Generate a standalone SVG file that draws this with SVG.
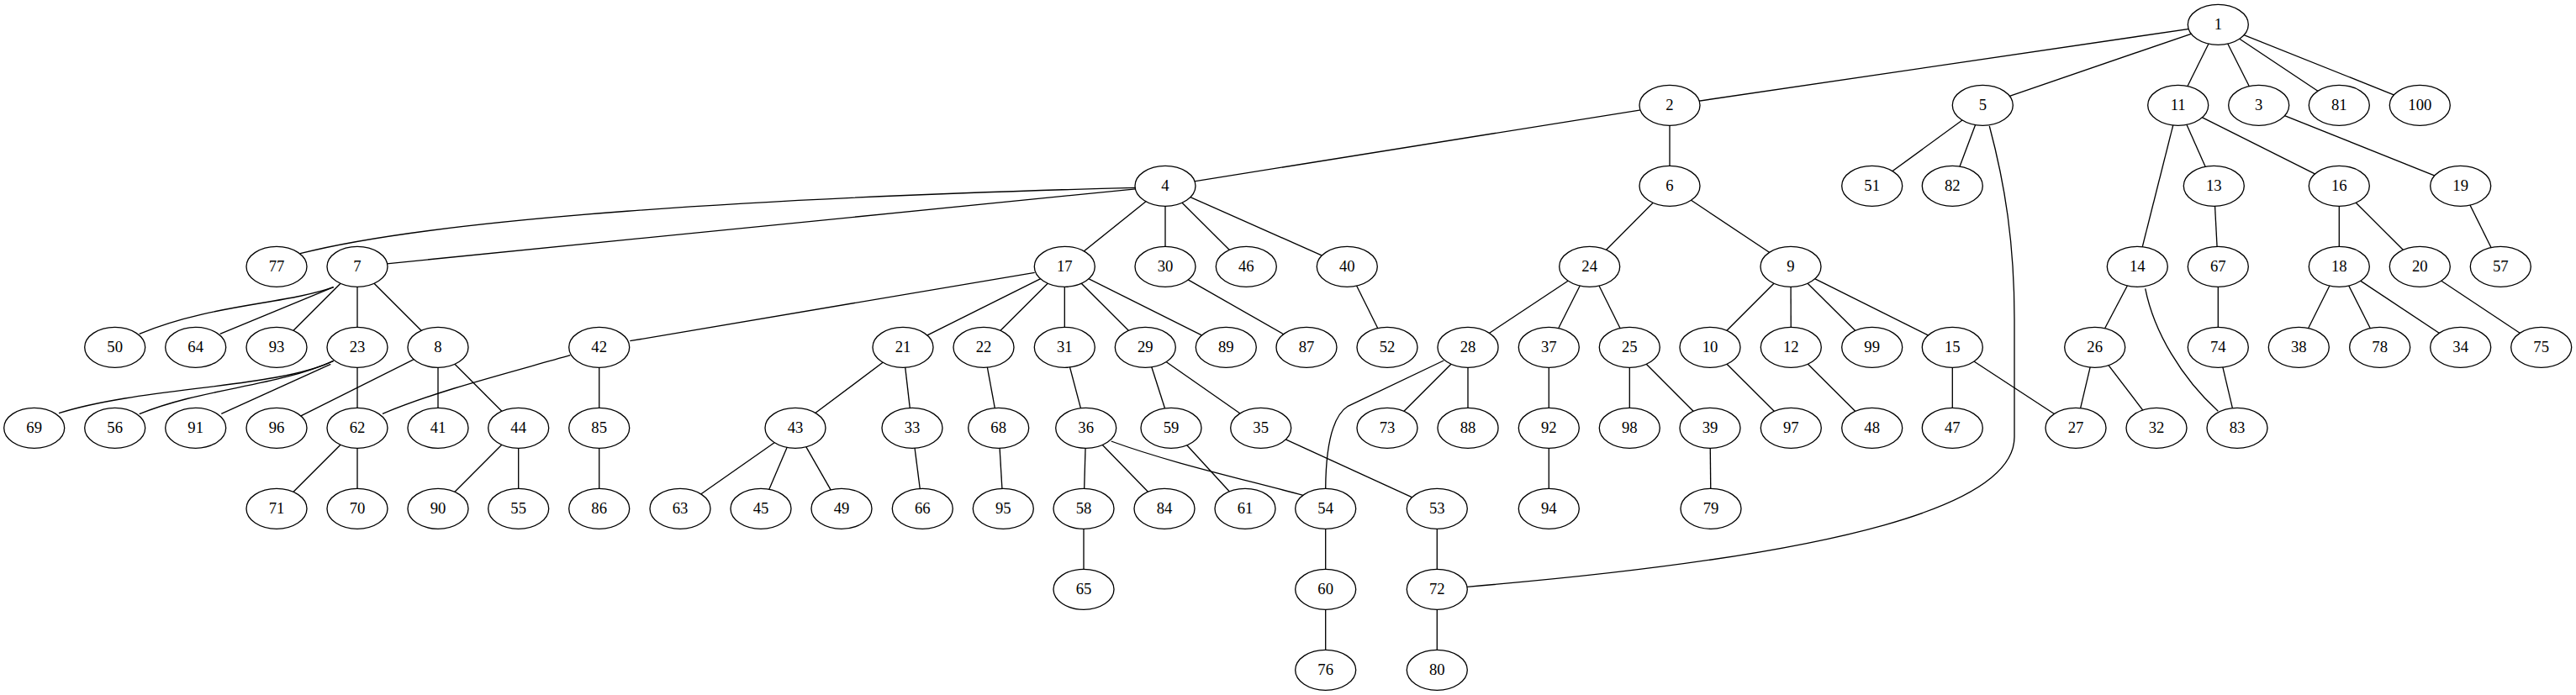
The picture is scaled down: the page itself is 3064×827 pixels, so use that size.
<svg xmlns="http://www.w3.org/2000/svg" width="3064" height="827" viewBox="0 0 3064 827">
<style>
#edges line, #edges path { stroke:#000; stroke-width:1.33; fill:none; }
.n ellipse { fill:#fff; stroke:#000; stroke-width:1.33; }
.n text { font-family:"Liberation Serif","Times New Roman",serif; font-size:18.67px; text-anchor:middle; fill:#000; }
</style>
<rect x="0" y="0" width="3064" height="827" fill="#fff"/>
<g id="edges">
<line x1="2638.3" y1="29.3" x2="1986" y2="125.3"/>
<line x1="2638.3" y1="29.3" x2="2358.3" y2="125.3"/>
<line x1="2638.3" y1="29.3" x2="2590.7" y2="125.3"/>
<line x1="2638.3" y1="29.3" x2="2686.7" y2="125.3"/>
<line x1="2638.3" y1="29.3" x2="2782.3" y2="125.3"/>
<line x1="2638.3" y1="29.3" x2="2878.3" y2="125.3"/>
<line x1="1986" y1="125.3" x2="1386" y2="221.3"/>
<line x1="1986" y1="125.3" x2="1986" y2="221.3"/>
<line x1="2358.3" y1="125.3" x2="2226.7" y2="221.3"/>
<line x1="2358.3" y1="125.3" x2="2322.3" y2="221.3"/>
<path d="M2366.3,150 C2385,220 2396,290 2396,380 L2396,520 C2396,600 2200,660 1745,698.3"/>
<line x1="2590.7" y1="125.3" x2="2542.3" y2="317.3"/>
<line x1="2590.7" y1="125.3" x2="2633.3" y2="221.3"/>
<line x1="2590.7" y1="125.3" x2="2782.3" y2="221.3"/>
<line x1="2686.7" y1="125.3" x2="2926.7" y2="221.3"/>
<path d="M1351,223.3 C900,235 520,260 357,301.7"/>
<line x1="1386" y1="221.3" x2="425" y2="317.3"/>
<line x1="1386" y1="221.3" x2="1266.3" y2="317.3"/>
<line x1="1386" y1="221.3" x2="1386" y2="317.3"/>
<line x1="1386" y1="221.3" x2="1482.3" y2="317.3"/>
<line x1="1386" y1="221.3" x2="1602.3" y2="317.3"/>
<line x1="1986" y1="221.3" x2="1890.7" y2="317.3"/>
<line x1="1986" y1="221.3" x2="2130" y2="317.3"/>
<line x1="2633.3" y1="221.3" x2="2638.3" y2="317.3"/>
<line x1="2782.3" y1="221.3" x2="2782.3" y2="317.3"/>
<line x1="2782.3" y1="221.3" x2="2878.3" y2="317.3"/>
<line x1="2926.7" y1="221.3" x2="2974.3" y2="317.3"/>
<path d="M396.7,341.7 C340,362 250,362 165.7,397.3"/>
<line x1="396.7" y1="341.7" x2="261.7" y2="397.3"/>
<line x1="425" y1="317.3" x2="329" y2="413.3"/>
<line x1="425" y1="317.3" x2="425" y2="413.3"/>
<line x1="425" y1="317.3" x2="521" y2="413.3"/>
<line x1="1230.7" y1="324.3" x2="749.3" y2="405.7"/>
<line x1="1266.3" y1="317.3" x2="1074" y2="413.3"/>
<line x1="1266.3" y1="317.3" x2="1170" y2="413.3"/>
<line x1="1266.3" y1="317.3" x2="1266.3" y2="413.3"/>
<line x1="1266.3" y1="317.3" x2="1362.3" y2="413.3"/>
<line x1="1266.3" y1="317.3" x2="1458.3" y2="413.3"/>
<line x1="1386" y1="317.3" x2="1554" y2="413.3"/>
<line x1="1602.3" y1="317.3" x2="1650" y2="413.3"/>
<line x1="1890.7" y1="317.3" x2="1746" y2="413.3"/>
<line x1="1890.7" y1="317.3" x2="1842.3" y2="413.3"/>
<line x1="1890.7" y1="317.3" x2="1938.3" y2="413.3"/>
<line x1="2130" y1="317.3" x2="2034" y2="413.3"/>
<line x1="2130" y1="317.3" x2="2130.3" y2="413.3"/>
<line x1="2130" y1="317.3" x2="2226.7" y2="413.3"/>
<line x1="2130" y1="317.3" x2="2322.3" y2="413.3"/>
<line x1="2542.3" y1="317.3" x2="2491.7" y2="413.3"/>
<path d="M2551.7,343.3 C2562,395 2595,450 2638.3,489.3"/>
<line x1="2638.3" y1="317.3" x2="2638.3" y2="413.3"/>
<line x1="2782.3" y1="317.3" x2="2734.3" y2="413.3"/>
<line x1="2782.3" y1="317.3" x2="2830.7" y2="413.3"/>
<line x1="2782.3" y1="317.3" x2="2926.7" y2="413.3"/>
<line x1="2878.3" y1="317.3" x2="3022.7" y2="413.3"/>
<path d="M396.7,429.3 C330,462 170,460 70,491.7"/>
<path d="M396.7,429.3 C330,460 240,462 165.7,492.7"/>
<line x1="393.3" y1="433.3" x2="263.3" y2="492.3"/>
<line x1="425" y1="413.3" x2="425" y2="509.3"/>
<line x1="521" y1="413.3" x2="329" y2="509.3"/>
<line x1="521" y1="413.3" x2="521" y2="509.3"/>
<line x1="521" y1="413.3" x2="616.7" y2="509.3"/>
<path d="M678.3,422.7 C600,445 520,465 455,492.3"/>
<line x1="712.7" y1="413.3" x2="712.7" y2="509.3"/>
<line x1="1074" y1="413.3" x2="946" y2="509.3"/>
<line x1="1074" y1="413.3" x2="1085" y2="509.3"/>
<line x1="1170" y1="413.3" x2="1187.7" y2="509.3"/>
<line x1="1266.3" y1="413.3" x2="1291.7" y2="509.3"/>
<line x1="1362.3" y1="413.3" x2="1393" y2="509.3"/>
<line x1="1362.3" y1="413.3" x2="1499.7" y2="509.3"/>
<path d="M1717.3,429 L1603.3,483.3 C1585,495 1577,530 1576.7,581.7"/>
<line x1="1746" y1="413.3" x2="1650" y2="509.3"/>
<line x1="1746" y1="413.3" x2="1746" y2="509.3"/>
<line x1="1842.3" y1="413.3" x2="1842.3" y2="509.3"/>
<line x1="1938.3" y1="413.3" x2="1938.3" y2="509.3"/>
<line x1="1938.3" y1="413.3" x2="2034" y2="509.3"/>
<line x1="2034" y1="413.3" x2="2130.3" y2="509.3"/>
<line x1="2130.3" y1="413.3" x2="2226.7" y2="509.3"/>
<line x1="2322.3" y1="413.3" x2="2322.3" y2="509.3"/>
<line x1="2322.3" y1="413.3" x2="2469" y2="509.3"/>
<line x1="2491.7" y1="413.3" x2="2469" y2="509.3"/>
<line x1="2491.7" y1="413.3" x2="2565" y2="509.3"/>
<line x1="2638.3" y1="413.3" x2="2661" y2="509.3"/>
<line x1="425" y1="509.3" x2="329" y2="605.3"/>
<line x1="425" y1="509.3" x2="425" y2="605.3"/>
<line x1="616.7" y1="509.3" x2="521" y2="605.3"/>
<line x1="616.7" y1="509.3" x2="616.7" y2="605.3"/>
<line x1="712.7" y1="509.3" x2="712.7" y2="605.3"/>
<line x1="946" y1="509.3" x2="809" y2="605.3"/>
<line x1="946" y1="509.3" x2="905" y2="605.3"/>
<line x1="946" y1="509.3" x2="1001" y2="605.3"/>
<line x1="1085" y1="509.3" x2="1097.3" y2="605.3"/>
<line x1="1187.7" y1="509.3" x2="1193.3" y2="605.3"/>
<line x1="1291.7" y1="509.3" x2="1289" y2="605.3"/>
<line x1="1291.7" y1="509.3" x2="1385" y2="605.3"/>
<path d="M1321.7,525 C1390,550 1470,568 1550,589.3"/>
<line x1="1393" y1="509.3" x2="1481" y2="605.3"/>
<line x1="1499.7" y1="509.3" x2="1709.3" y2="605.3"/>
<line x1="1842.3" y1="509.3" x2="1842.3" y2="605.3"/>
<line x1="2034" y1="509.3" x2="2035" y2="605.3"/>
<line x1="1289" y1="605.3" x2="1289" y2="701.3"/>
<line x1="1576.7" y1="605.3" x2="1576.7" y2="701.3"/>
<line x1="1709.3" y1="605.3" x2="1709.3" y2="701.3"/>
<line x1="1576.7" y1="701.3" x2="1576.7" y2="797.3"/>
<line x1="1709.3" y1="701.3" x2="1709.3" y2="797.3"/>
</g>
<g id="nodes">
<g id="node-1" class="n"><ellipse cx="2638.3" cy="29.3" rx="36" ry="24"/><text x="2638.3" y="35.3">1</text></g>
<g id="node-2" class="n"><ellipse cx="1986" cy="125.3" rx="36" ry="24"/><text x="1986" y="131.3">2</text></g>
<g id="node-5" class="n"><ellipse cx="2358.3" cy="125.3" rx="36" ry="24"/><text x="2358.3" y="131.3">5</text></g>
<g id="node-11" class="n"><ellipse cx="2590.7" cy="125.3" rx="36" ry="24"/><text x="2590.7" y="131.3">11</text></g>
<g id="node-3" class="n"><ellipse cx="2686.7" cy="125.3" rx="36" ry="24"/><text x="2686.7" y="131.3">3</text></g>
<g id="node-81" class="n"><ellipse cx="2782.3" cy="125.3" rx="36" ry="24"/><text x="2782.3" y="131.3">81</text></g>
<g id="node-100" class="n"><ellipse cx="2878.3" cy="125.3" rx="36" ry="24"/><text x="2878.3" y="131.3">100</text></g>
<g id="node-4" class="n"><ellipse cx="1386" cy="221.3" rx="36" ry="24"/><text x="1386" y="227.3">4</text></g>
<g id="node-6" class="n"><ellipse cx="1986" cy="221.3" rx="36" ry="24"/><text x="1986" y="227.3">6</text></g>
<g id="node-51" class="n"><ellipse cx="2226.7" cy="221.3" rx="36" ry="24"/><text x="2226.7" y="227.3">51</text></g>
<g id="node-82" class="n"><ellipse cx="2322.3" cy="221.3" rx="36" ry="24"/><text x="2322.3" y="227.3">82</text></g>
<g id="node-13" class="n"><ellipse cx="2633.3" cy="221.3" rx="36" ry="24"/><text x="2633.3" y="227.3">13</text></g>
<g id="node-16" class="n"><ellipse cx="2782.3" cy="221.3" rx="36" ry="24"/><text x="2782.3" y="227.3">16</text></g>
<g id="node-19" class="n"><ellipse cx="2926.7" cy="221.3" rx="36" ry="24"/><text x="2926.7" y="227.3">19</text></g>
<g id="node-77" class="n"><ellipse cx="329" cy="317.3" rx="36" ry="24"/><text x="329" y="323.3">77</text></g>
<g id="node-7" class="n"><ellipse cx="425" cy="317.3" rx="36" ry="24"/><text x="425" y="323.3">7</text></g>
<g id="node-17" class="n"><ellipse cx="1266.3" cy="317.3" rx="36" ry="24"/><text x="1266.3" y="323.3">17</text></g>
<g id="node-30" class="n"><ellipse cx="1386" cy="317.3" rx="36" ry="24"/><text x="1386" y="323.3">30</text></g>
<g id="node-46" class="n"><ellipse cx="1482.3" cy="317.3" rx="36" ry="24"/><text x="1482.3" y="323.3">46</text></g>
<g id="node-40" class="n"><ellipse cx="1602.3" cy="317.3" rx="36" ry="24"/><text x="1602.3" y="323.3">40</text></g>
<g id="node-24" class="n"><ellipse cx="1890.7" cy="317.3" rx="36" ry="24"/><text x="1890.7" y="323.3">24</text></g>
<g id="node-9" class="n"><ellipse cx="2130" cy="317.3" rx="36" ry="24"/><text x="2130" y="323.3">9</text></g>
<g id="node-14" class="n"><ellipse cx="2542.3" cy="317.3" rx="36" ry="24"/><text x="2542.3" y="323.3">14</text></g>
<g id="node-67" class="n"><ellipse cx="2638.3" cy="317.3" rx="36" ry="24"/><text x="2638.3" y="323.3">67</text></g>
<g id="node-18" class="n"><ellipse cx="2782.3" cy="317.3" rx="36" ry="24"/><text x="2782.3" y="323.3">18</text></g>
<g id="node-20" class="n"><ellipse cx="2878.3" cy="317.3" rx="36" ry="24"/><text x="2878.3" y="323.3">20</text></g>
<g id="node-57" class="n"><ellipse cx="2974.3" cy="317.3" rx="36" ry="24"/><text x="2974.3" y="323.3">57</text></g>
<g id="node-50" class="n"><ellipse cx="136.7" cy="413.3" rx="36" ry="24"/><text x="136.7" y="419.3">50</text></g>
<g id="node-64" class="n"><ellipse cx="232.7" cy="413.3" rx="36" ry="24"/><text x="232.7" y="419.3">64</text></g>
<g id="node-93" class="n"><ellipse cx="329" cy="413.3" rx="36" ry="24"/><text x="329" y="419.3">93</text></g>
<g id="node-23" class="n"><ellipse cx="425" cy="413.3" rx="36" ry="24"/><text x="425" y="419.3">23</text></g>
<g id="node-8" class="n"><ellipse cx="521" cy="413.3" rx="36" ry="24"/><text x="521" y="419.3">8</text></g>
<g id="node-42" class="n"><ellipse cx="712.7" cy="413.3" rx="36" ry="24"/><text x="712.7" y="419.3">42</text></g>
<g id="node-21" class="n"><ellipse cx="1074" cy="413.3" rx="36" ry="24"/><text x="1074" y="419.3">21</text></g>
<g id="node-22" class="n"><ellipse cx="1170" cy="413.3" rx="36" ry="24"/><text x="1170" y="419.3">22</text></g>
<g id="node-31" class="n"><ellipse cx="1266.3" cy="413.3" rx="36" ry="24"/><text x="1266.3" y="419.3">31</text></g>
<g id="node-29" class="n"><ellipse cx="1362.3" cy="413.3" rx="36" ry="24"/><text x="1362.3" y="419.3">29</text></g>
<g id="node-89" class="n"><ellipse cx="1458.3" cy="413.3" rx="36" ry="24"/><text x="1458.3" y="419.3">89</text></g>
<g id="node-87" class="n"><ellipse cx="1554" cy="413.3" rx="36" ry="24"/><text x="1554" y="419.3">87</text></g>
<g id="node-52" class="n"><ellipse cx="1650" cy="413.3" rx="36" ry="24"/><text x="1650" y="419.3">52</text></g>
<g id="node-28" class="n"><ellipse cx="1746" cy="413.3" rx="36" ry="24"/><text x="1746" y="419.3">28</text></g>
<g id="node-37" class="n"><ellipse cx="1842.3" cy="413.3" rx="36" ry="24"/><text x="1842.3" y="419.3">37</text></g>
<g id="node-25" class="n"><ellipse cx="1938.3" cy="413.3" rx="36" ry="24"/><text x="1938.3" y="419.3">25</text></g>
<g id="node-10" class="n"><ellipse cx="2034" cy="413.3" rx="36" ry="24"/><text x="2034" y="419.3">10</text></g>
<g id="node-12" class="n"><ellipse cx="2130.3" cy="413.3" rx="36" ry="24"/><text x="2130.3" y="419.3">12</text></g>
<g id="node-99" class="n"><ellipse cx="2226.7" cy="413.3" rx="36" ry="24"/><text x="2226.7" y="419.3">99</text></g>
<g id="node-15" class="n"><ellipse cx="2322.3" cy="413.3" rx="36" ry="24"/><text x="2322.3" y="419.3">15</text></g>
<g id="node-26" class="n"><ellipse cx="2491.7" cy="413.3" rx="36" ry="24"/><text x="2491.7" y="419.3">26</text></g>
<g id="node-74" class="n"><ellipse cx="2638.3" cy="413.3" rx="36" ry="24"/><text x="2638.3" y="419.3">74</text></g>
<g id="node-38" class="n"><ellipse cx="2734.3" cy="413.3" rx="36" ry="24"/><text x="2734.3" y="419.3">38</text></g>
<g id="node-78" class="n"><ellipse cx="2830.7" cy="413.3" rx="36" ry="24"/><text x="2830.7" y="419.3">78</text></g>
<g id="node-34" class="n"><ellipse cx="2926.7" cy="413.3" rx="36" ry="24"/><text x="2926.7" y="419.3">34</text></g>
<g id="node-75" class="n"><ellipse cx="3022.7" cy="413.3" rx="36" ry="24"/><text x="3022.7" y="419.3">75</text></g>
<g id="node-69" class="n"><ellipse cx="40.7" cy="509.3" rx="36" ry="24"/><text x="40.7" y="515.3">69</text></g>
<g id="node-56" class="n"><ellipse cx="136.7" cy="509.3" rx="36" ry="24"/><text x="136.7" y="515.3">56</text></g>
<g id="node-91" class="n"><ellipse cx="232.7" cy="509.3" rx="36" ry="24"/><text x="232.7" y="515.3">91</text></g>
<g id="node-96" class="n"><ellipse cx="329" cy="509.3" rx="36" ry="24"/><text x="329" y="515.3">96</text></g>
<g id="node-62" class="n"><ellipse cx="425" cy="509.3" rx="36" ry="24"/><text x="425" y="515.3">62</text></g>
<g id="node-41" class="n"><ellipse cx="521" cy="509.3" rx="36" ry="24"/><text x="521" y="515.3">41</text></g>
<g id="node-44" class="n"><ellipse cx="616.7" cy="509.3" rx="36" ry="24"/><text x="616.7" y="515.3">44</text></g>
<g id="node-85" class="n"><ellipse cx="712.7" cy="509.3" rx="36" ry="24"/><text x="712.7" y="515.3">85</text></g>
<g id="node-43" class="n"><ellipse cx="946" cy="509.3" rx="36" ry="24"/><text x="946" y="515.3">43</text></g>
<g id="node-33" class="n"><ellipse cx="1085" cy="509.3" rx="36" ry="24"/><text x="1085" y="515.3">33</text></g>
<g id="node-68" class="n"><ellipse cx="1187.7" cy="509.3" rx="36" ry="24"/><text x="1187.7" y="515.3">68</text></g>
<g id="node-36" class="n"><ellipse cx="1291.7" cy="509.3" rx="36" ry="24"/><text x="1291.7" y="515.3">36</text></g>
<g id="node-59" class="n"><ellipse cx="1393" cy="509.3" rx="36" ry="24"/><text x="1393" y="515.3">59</text></g>
<g id="node-35" class="n"><ellipse cx="1499.7" cy="509.3" rx="36" ry="24"/><text x="1499.7" y="515.3">35</text></g>
<g id="node-73" class="n"><ellipse cx="1650" cy="509.3" rx="36" ry="24"/><text x="1650" y="515.3">73</text></g>
<g id="node-88" class="n"><ellipse cx="1746" cy="509.3" rx="36" ry="24"/><text x="1746" y="515.3">88</text></g>
<g id="node-92" class="n"><ellipse cx="1842.3" cy="509.3" rx="36" ry="24"/><text x="1842.3" y="515.3">92</text></g>
<g id="node-98" class="n"><ellipse cx="1938.3" cy="509.3" rx="36" ry="24"/><text x="1938.3" y="515.3">98</text></g>
<g id="node-39" class="n"><ellipse cx="2034" cy="509.3" rx="36" ry="24"/><text x="2034" y="515.3">39</text></g>
<g id="node-97" class="n"><ellipse cx="2130.3" cy="509.3" rx="36" ry="24"/><text x="2130.3" y="515.3">97</text></g>
<g id="node-48" class="n"><ellipse cx="2226.7" cy="509.3" rx="36" ry="24"/><text x="2226.7" y="515.3">48</text></g>
<g id="node-47" class="n"><ellipse cx="2322.3" cy="509.3" rx="36" ry="24"/><text x="2322.3" y="515.3">47</text></g>
<g id="node-27" class="n"><ellipse cx="2469" cy="509.3" rx="36" ry="24"/><text x="2469" y="515.3">27</text></g>
<g id="node-32" class="n"><ellipse cx="2565" cy="509.3" rx="36" ry="24"/><text x="2565" y="515.3">32</text></g>
<g id="node-83" class="n"><ellipse cx="2661" cy="509.3" rx="36" ry="24"/><text x="2661" y="515.3">83</text></g>
<g id="node-71" class="n"><ellipse cx="329" cy="605.3" rx="36" ry="24"/><text x="329" y="611.3">71</text></g>
<g id="node-70" class="n"><ellipse cx="425" cy="605.3" rx="36" ry="24"/><text x="425" y="611.3">70</text></g>
<g id="node-90" class="n"><ellipse cx="521" cy="605.3" rx="36" ry="24"/><text x="521" y="611.3">90</text></g>
<g id="node-55" class="n"><ellipse cx="616.7" cy="605.3" rx="36" ry="24"/><text x="616.7" y="611.3">55</text></g>
<g id="node-86" class="n"><ellipse cx="712.7" cy="605.3" rx="36" ry="24"/><text x="712.7" y="611.3">86</text></g>
<g id="node-63" class="n"><ellipse cx="809" cy="605.3" rx="36" ry="24"/><text x="809" y="611.3">63</text></g>
<g id="node-45" class="n"><ellipse cx="905" cy="605.3" rx="36" ry="24"/><text x="905" y="611.3">45</text></g>
<g id="node-49" class="n"><ellipse cx="1001" cy="605.3" rx="36" ry="24"/><text x="1001" y="611.3">49</text></g>
<g id="node-66" class="n"><ellipse cx="1097.3" cy="605.3" rx="36" ry="24"/><text x="1097.3" y="611.3">66</text></g>
<g id="node-95" class="n"><ellipse cx="1193.3" cy="605.3" rx="36" ry="24"/><text x="1193.3" y="611.3">95</text></g>
<g id="node-58" class="n"><ellipse cx="1289" cy="605.3" rx="36" ry="24"/><text x="1289" y="611.3">58</text></g>
<g id="node-84" class="n"><ellipse cx="1385" cy="605.3" rx="36" ry="24"/><text x="1385" y="611.3">84</text></g>
<g id="node-61" class="n"><ellipse cx="1481" cy="605.3" rx="36" ry="24"/><text x="1481" y="611.3">61</text></g>
<g id="node-54" class="n"><ellipse cx="1576.7" cy="605.3" rx="36" ry="24"/><text x="1576.7" y="611.3">54</text></g>
<g id="node-53" class="n"><ellipse cx="1709.3" cy="605.3" rx="36" ry="24"/><text x="1709.3" y="611.3">53</text></g>
<g id="node-94" class="n"><ellipse cx="1842.3" cy="605.3" rx="36" ry="24"/><text x="1842.3" y="611.3">94</text></g>
<g id="node-79" class="n"><ellipse cx="2035" cy="605.3" rx="36" ry="24"/><text x="2035" y="611.3">79</text></g>
<g id="node-65" class="n"><ellipse cx="1289" cy="701.3" rx="36" ry="24"/><text x="1289" y="707.3">65</text></g>
<g id="node-60" class="n"><ellipse cx="1576.7" cy="701.3" rx="36" ry="24"/><text x="1576.7" y="707.3">60</text></g>
<g id="node-72" class="n"><ellipse cx="1709.3" cy="701.3" rx="36" ry="24"/><text x="1709.3" y="707.3">72</text></g>
<g id="node-76" class="n"><ellipse cx="1576.7" cy="797.3" rx="36" ry="24"/><text x="1576.7" y="803.3">76</text></g>
<g id="node-80" class="n"><ellipse cx="1709.3" cy="797.3" rx="36" ry="24"/><text x="1709.3" y="803.3">80</text></g>
</g>
</svg>
